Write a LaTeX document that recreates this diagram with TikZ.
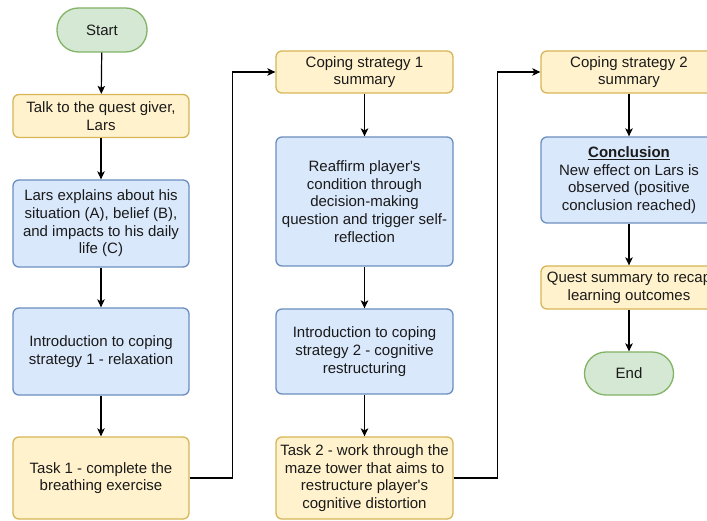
\documentclass[tikz,border=0pt]{standalone}
\usepackage{fontspec}
\setmainfont{Liberation Sans}[Ligatures=TeXOff]
\usetikzlibrary{arrows.meta}
\definecolor{yfill}{HTML}{FFF2CC}
\definecolor{ydraw}{HTML}{D6B656}
\definecolor{bfill}{HTML}{DAE8FC}
\definecolor{bdraw}{HTML}{6C8EBF}
\definecolor{gfill}{HTML}{D5E8D4}
\definecolor{gdraw}{HTML}{82B366}
\definecolor{txt}{HTML}{1A1A1A}
\tikzset{
  box/.style={draw, rounded corners=6pt, line width=1.3pt, align=center, inner sep=0pt,
    font=\fontsize{15}{17.7}\selectfont, text=txt},
  ybox/.style={box, fill=yfill, draw=ydraw},
  bbox/.style={box, fill=bfill, draw=bdraw},
  term/.style={box, fill=gfill, draw=gdraw, rounded corners=21.5pt},
  conn/.style={line width=1.2pt, draw=black, -{Stealth[length=8pt,width=7.5pt,inset=2pt]}}
}
\begin{document}
\begin{tikzpicture}[x=1pt,y=-1pt]
\useasboundingbox (0,0) rectangle (707,521);
\clip (0,0) rectangle (707,521);
\fill[white] (0,0) rectangle (707,521);
% column 1
\node[term, minimum width=90pt, minimum height=44pt] (start) at (102,30) {Start};
\node[ybox, minimum width=176pt, minimum height=43pt] (talk) at (101,116) {Talk to the quest giver,\\Lars};
\node[bbox, minimum width=176pt, minimum height=87pt] (lars) at (101,223.5) {Lars explains about his\\situation (A), belief (B),\\and impacts to his daily\\life (C)};
\node[bbox, minimum width=176pt, minimum height=87pt] (intro1) at (101,351.5) {Introduction to coping\\strategy 1 - relaxation};
\node[ybox, minimum width=176pt, minimum height=82pt] (task1) at (101,478) {Task 1 - complete the\\breathing exercise};
% column 2
\node[ybox, minimum width=177pt, minimum height=42pt] (cop1) at (364.5,72) {Coping strategy 1\\summary};
\node[bbox, minimum width=177pt, minimum height=129pt] (reaff) at (364.5,201.5) {Reaffirm player's\\condition through\\decision-making\\question and trigger self-\\reflection};
\node[bbox, minimum width=177pt, minimum height=85pt] (intro2) at (364.5,351.5) {Introduction to coping\\strategy 2 - cognitive\\restructuring};
\node[ybox, minimum width=177pt, minimum height=82pt] (task2) at (364.5,478) {Task 2 - work through the\\maze tower that aims to\\restructure player's\\cognitive distortion};
% column 3
\node[ybox, minimum width=176pt, minimum height=42pt] (cop2) at (629,72) {Coping strategy 2\\summary};
\node[bbox, minimum width=176pt, minimum height=86pt] (concl) at (629,180) {\textbf{\underline{Conclusion}}\\New effect on Lars is\\observed (positive\\conclusion reached)};
\node[ybox, minimum width=176pt, minimum height=43pt] (quest) at (629,287.5) {Quest summary to recap\\learning outcomes};
\node[term, minimum width=89pt, minimum height=43pt] (end) at (629,373.5) {End};
% connectors
\draw[conn] (start) -- (talk);
\draw[conn] (talk) -- (lars);
\draw[conn] (lars) -- (intro1);
\draw[conn] (intro1) -- (task1);
\draw[conn] (task1.east) -- ([xshift=43pt]task1.east) |- (cop1.west);
\draw[conn] (cop1) -- (reaff);
\draw[conn] (reaff) -- (intro2);
\draw[conn] (intro2) -- (task2);
\draw[conn] (task2.east) -- ([xshift=44pt]task2.east) |- (cop2.west);
\draw[conn] (cop2) -- (concl);
\draw[conn] (concl) -- (quest);
\draw[conn] (quest) -- (end);
\end{tikzpicture}
\end{document}
